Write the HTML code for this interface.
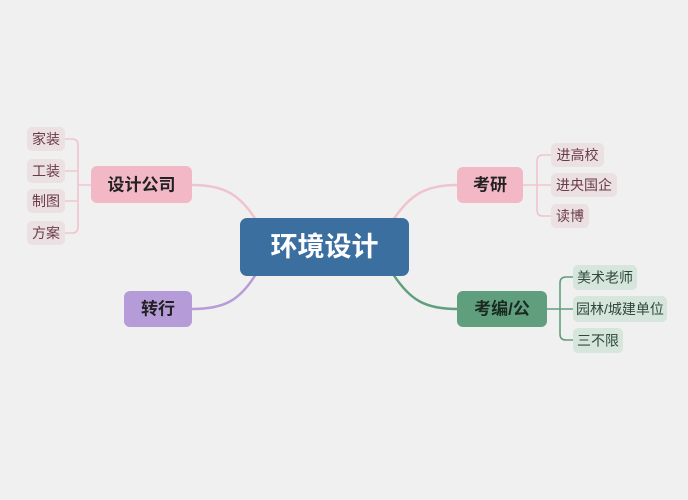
<!DOCTYPE html>
<html><head><meta charset="utf-8"><style>
html,body{margin:0;padding:0;background:#f0f0f0;}
svg{display:block}
text{font-family:"Liberation Sans","Noto Sans CJK SC",sans-serif;dominant-baseline:central;text-anchor:middle}
</style></head><body>
<svg width="688" height="500" viewBox="0 0 688 500" xmlns="http://www.w3.org/2000/svg">
<rect width="688" height="500" fill="#f0f0f0"/>
<g fill="none" stroke-width="2.5">
<path d="M256 220 C240 195 225 185 192 185" stroke="#f0c4ce"/>
<path d="M256 274 C240 300 225 309 192 309" stroke="#b89bd8"/>
<path d="M393 220 C410 195 425 185 457 185" stroke="#f0c4ce"/>
<path d="M393 274 C410 300 425 309 457 309" stroke="#5f9f7e"/>
</g>
<g fill="none" stroke-width="1.6">
<path d="M91 185 H78 M65 139 H72 Q78 139 78 145 V227 Q78 233 72 233 H65 M65 171 H78 M65 201 H78" stroke="#f0c4ce"/>
<path d="M523 185 H551 M551 155 H543 Q537 155 537 161 V210 Q537 216 543 216 H551" stroke="#f0c4ce"/>
<path d="M547 309 H573 M573 277 H566 Q560 277 560 283 V334 Q560 340 566 340 H573" stroke="#5f9f7e"/>
</g>
<rect x="240" y="218" width="169" height="58" rx="7" fill="#3b6fa0"/>
<text x="324.5" y="247" font-size="27" font-weight="bold" fill="#fff">环境设计</text>
<rect x="91" y="166" width="101" height="37" rx="6" fill="#f2b8c6"/>
<text x="141.5" y="185" font-size="17" font-weight="bold" fill="#222">设计公司</text>
<rect x="124" y="291" width="68" height="36" rx="6" fill="#b59bd8"/>
<text x="158" y="309" font-size="17" font-weight="bold" fill="#222">转行</text>
<rect x="457" y="167" width="66" height="36" rx="6" fill="#f2b8c6"/>
<text x="490" y="185" font-size="17" font-weight="bold" fill="#222">考研</text>
<rect x="457" y="291" width="90" height="36" rx="6" fill="#5f9f7e"/>
<text x="502" y="309" font-size="17" font-weight="bold" fill="#1a2a20">考编/公</text>
<g font-size="14" fill="#6b3a48">
<rect x="27" y="127" width="38" height="24" rx="5" fill="#ebe0e2"/><text x="46" y="139">家装</text>
<rect x="27" y="159" width="38" height="24" rx="5" fill="#ebe0e2"/><text x="46" y="171">工装</text>
<rect x="27" y="189" width="38" height="24" rx="5" fill="#ebe0e2"/><text x="46" y="201">制图</text>
<rect x="27" y="221" width="38" height="24" rx="5" fill="#ebe0e2"/><text x="46" y="233">方案</text>
</g>
<g font-size="14" fill="#6b3a48">
<rect x="551" y="143" width="53" height="24" rx="5" fill="#ebe0e2"/><text x="577.5" y="155">进高校</text>
<rect x="551" y="173" width="66" height="24" rx="5" fill="#ebe0e2"/><text x="584" y="185">进央国企</text>
<rect x="551" y="204" width="38" height="24" rx="5" fill="#ebe0e2"/><text x="570" y="216">读博</text>
</g>
<g font-size="14" fill="#2f4a3a">
<rect x="573" y="265" width="64" height="25" rx="5" fill="#d6e6dc"/><text x="605" y="277.5">美术老师</text>
<rect x="573" y="296" width="94" height="26" rx="5" fill="#d6e6dc"/><text x="620" y="309">园林/城建单位</text>
<rect x="573" y="328" width="50" height="25" rx="5" fill="#d6e6dc"/><text x="598" y="340.5">三不限</text>
</g>
</svg>
</body></html>
